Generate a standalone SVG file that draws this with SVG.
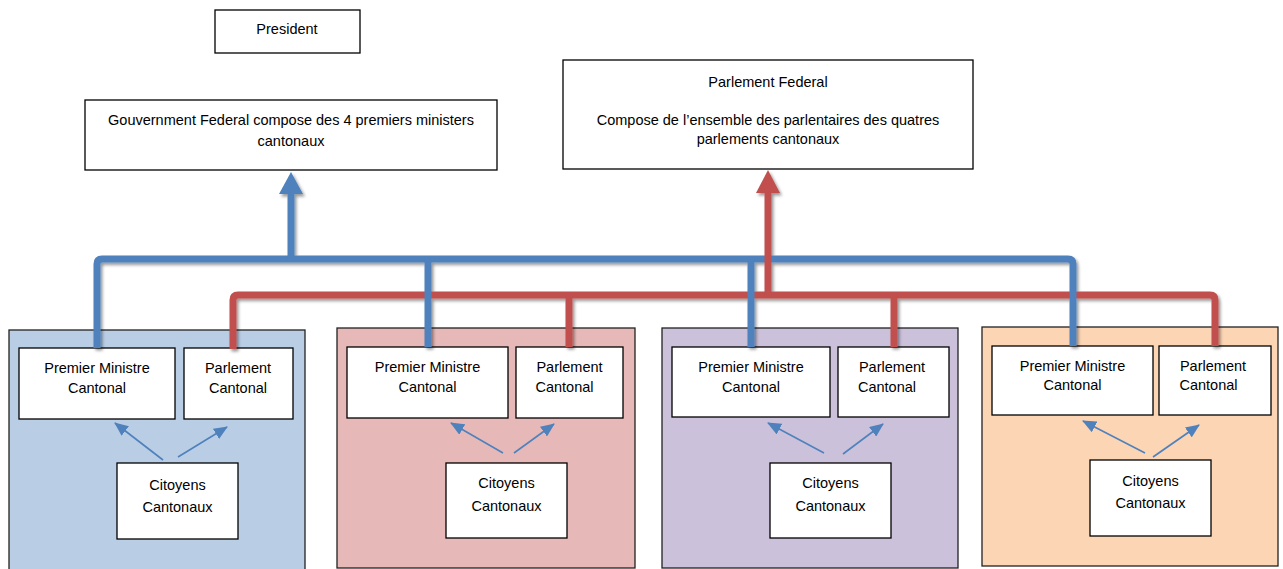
<svg xmlns="http://www.w3.org/2000/svg" width="1283" height="569" viewBox="0 0 1283 569">
<style>
  text { font-family: "Liberation Sans", Arial, sans-serif; font-size: 14.5px; fill: #000; text-anchor: middle; }
  .box { fill: #fff; stroke: #000; stroke-width: 1.3; }
  .panel { stroke: #222; stroke-width: 1.3; }
  .blue { fill: none; stroke: #4f81bd; stroke-width: 7; stroke-linejoin: round; }
  .red { fill: none; stroke: #c0504d; stroke-width: 7; stroke-linejoin: round; }
  .small { fill: none; stroke: #4f81bd; stroke-width: 1.6; }
</style>
<defs>
  <filter id="sh" x="-10%" y="-10%" width="120%" height="120%">
    <feDropShadow dx="2" dy="2.5" stdDeviation="1.5" flood-color="#000" flood-opacity="0.4"/>
  </filter>
  <marker id="ab" markerUnits="userSpaceOnUse" markerWidth="14" markerHeight="12" refX="13" refY="6" orient="auto">
    <path d="M0,0 L14,6 L0,12 z" fill="#4f81bd"/>
  </marker>
</defs>

<g id="panel1"><rect class="panel" x="9" y="330" width="296" height="250" fill="#b9cde5"/></g>
<g id="panel2"><rect class="panel" x="337" y="328" width="298" height="240" fill="#e6b9b8"/></g>
<g id="panel3"><rect class="panel" x="662" y="328" width="296" height="240" fill="#ccc1da"/></g>
<g id="panel4"><rect class="panel" x="982" y="327" width="296" height="239" fill="#fcd5b5"/></g>

<g id="president"><rect class="box" x="215" y="10" width="145" height="43"/><text x="287" y="34">President</text></g>
<g id="gouvernement"><rect class="box" x="85" y="100" width="412" height="70"/>
  <text x="291" y="125">Gouvernment Federal compose des 4 premiers ministers</text>
  <text x="291" y="146">cantonaux</text></g>
<g id="parlement-federal"><rect class="box" x="563" y="60" width="410" height="109"/>
  <text x="768" y="87">Parlement Federal</text>
  <text x="768" y="125">Compose de l’ensemble des parlentaires des quatres</text>
  <text x="768" y="144">parlements cantonaux</text></g>

<g id="pm1"><rect class="box" x="19" y="348" width="156" height="71"/><text x="97" y="373">Premier Ministre</text><text x="97" y="393">Cantonal</text></g>
<g id="pc1"><rect class="box" x="184" y="348" width="109" height="71"/><text x="238" y="373">Parlement</text><text x="238" y="393">Cantonal</text></g>
<g id="cit1"><rect class="box" x="117" y="463" width="121" height="76"/><text x="177.5" y="490">Citoyens</text><text x="177.5" y="512">Cantonaux</text></g>

<g id="pm2"><rect class="box" x="347" y="347" width="161" height="71"/><text x="427.5" y="372">Premier Ministre</text><text x="427.5" y="392">Cantonal</text></g>
<g id="pc2"><rect class="box" x="516" y="347" width="107" height="71"/><text x="569.5" y="372">Parlement</text><text x="564.5" y="392">Cantonal</text></g>
<g id="cit2"><rect class="box" x="446" y="463" width="121" height="75"/><text x="506.5" y="488">Citoyens</text><text x="506.5" y="511">Cantonaux</text></g>

<g id="pm3"><rect class="box" x="672" y="347" width="158" height="70"/><text x="751" y="372">Premier Ministre</text><text x="751" y="392">Cantonal</text></g>
<g id="pc3"><rect class="box" x="838" y="347" width="111" height="70"/><text x="892" y="372">Parlement</text><text x="887" y="392">Cantonal</text></g>
<g id="cit3"><rect class="box" x="770" y="463" width="121" height="75"/><text x="830.5" y="488">Citoyens</text><text x="830.5" y="511">Cantonaux</text></g>

<g id="pm4"><rect class="box" x="992" y="346" width="161" height="69"/><text x="1072.5" y="371">Premier Ministre</text><text x="1072.5" y="390">Cantonal</text></g>
<g id="pc4"><rect class="box" x="1159" y="346" width="112" height="69"/><text x="1213" y="371">Parlement</text><text x="1208.5" y="390">Cantonal</text></g>
<g id="cit4"><rect class="box" x="1090" y="460" width="121" height="76"/><text x="1150.5" y="486">Citoyens</text><text x="1150.5" y="508">Cantonaux</text></g>

<g id="connectors">
  <g filter="url(#sh)">
    <path class="red" d="M233,349 V300 Q233,295 238,295 H1210 Q1215,295 1215,300 V346"/>
    <path class="red" d="M569,295 V347 M894,295 V347"/>
    <path class="blue" d="M97,348 V264 Q97,259 102,259 H1068 Q1073,259 1073,264 V346"/>
    <path class="blue" d="M428,259 V347 M751,259 V347"/>
    <path class="blue" d="M291,259 V190"/>
    <polygon points="291,172 303,194 279,194" fill="#4f81bd"/>
    <path class="red" d="M768,297 V188"/>
    <polygon points="768,170 780,193 756,193" fill="#c0504d"/>
  </g>
  <line class="small" x1="163" y1="460" x2="115" y2="423" marker-end="url(#ab)"/>
  <line class="small" x1="178" y1="457" x2="227" y2="427" marker-end="url(#ab)"/>
  <line class="small" x1="503" y1="453" x2="451" y2="423" marker-end="url(#ab)"/>
  <line class="small" x1="514" y1="453" x2="554" y2="424" marker-end="url(#ab)"/>
  <line class="small" x1="824" y1="453" x2="768" y2="423" marker-end="url(#ab)"/>
  <line class="small" x1="843" y1="454" x2="883" y2="424" marker-end="url(#ab)"/>
  <line class="small" x1="1145" y1="453" x2="1083" y2="421" marker-end="url(#ab)"/>
  <line class="small" x1="1153" y1="457" x2="1199" y2="425" marker-end="url(#ab)"/>
</g>
</svg>
